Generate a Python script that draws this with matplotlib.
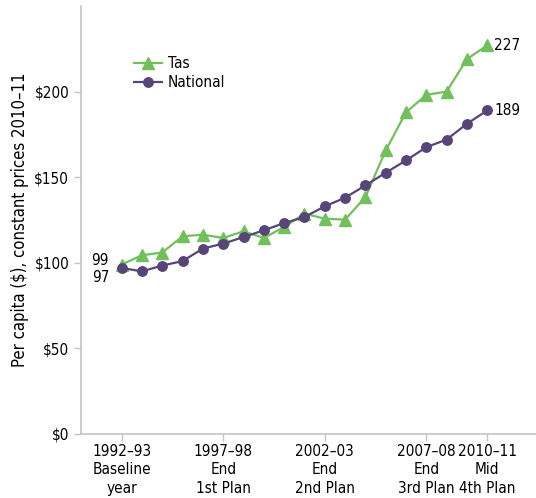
import matplotlib.pyplot as plt
import numpy as np

years = list(range(19))  # 1992-93 .. 2010-11
tas = [99, 104.4, 106, 115.5, 116.4, 114.5, 118.4, 114.5, 120.9, 128.7,
       125.8, 125.2, 138.4, 165.6, 187.9, 198.1, 200, 219, 227]
national = [97, 95, 98.4, 101, 108.3, 111.2, 115, 119, 123.2, 126.7,
            133, 138, 145.2, 152.6, 159.8, 167.5, 172, 181.2, 189]
tick_pos = [0, 5, 10, 15, 18]
tick_labels = ["1992\u201393\nBaseline\nyear", "1997\u201398\nEnd\n1st Plan",
               "2002\u201303\nEnd\n2nd Plan", "2007\u201308\nEnd\n3rd Plan",
               "2010\u201311\nMid\n4th Plan"]
y_ticks = [0, 50, 100, 150, 200]

GREEN = "#72c05b"
PURPLE = "#574478"
GREY = "#c4c4c4"

plt.rcParams["font.family"] = ["DejaVu Sans"]
plt.rcParams["font.stretch"] = "condensed"
plt.rcParams["font.size"] = 11

fig = plt.figure(figsize=(5.36, 4.98), dpi=100)
ax = fig.add_axes([81 / 536, 1 - 434 / 498, 1 - 81 / 536, (434 - 6) / 498])

ax.plot(years, tas, color=GREEN, marker="^", markersize=8.5, lw=1.6, label="Tas")
ax.plot(years, national, color=PURPLE, marker="o", markersize=6.8, lw=1.6,
        label="National")

ax.set_xlim(-2, 20.4)
ax.set_ylim(0, 250)
ax.set_xticks(tick_pos)
ax.set_xticklabels(tick_labels, linespacing=1.3)
ax.set_yticks(y_ticks)
ax.set_yticklabels([f"${v}" for v in y_ticks])
ax.set_ylabel("Per capita ($), constant prices 2010\u201311", fontsize=12,
              labelpad=4)

for side in ["top", "right"]:
    ax.spines[side].set_visible(False)
for side in ["left", "bottom"]:
    ax.spines[side].set_color(GREY)
    ax.spines[side].set_linewidth(1.2)
ax.tick_params(colors=GREY, labelcolor="black", length=5, width=1)
ax.tick_params(axis="x", pad=2)

ax.annotate(f"{tas[0]}", (years[0], tas[0]), xytext=(-9, 3),
            textcoords="offset points", ha="right", va="center")
ax.annotate(f"{national[0]}", (years[0], national[0]), xytext=(-9, -7),
            textcoords="offset points", ha="right", va="center")
ax.annotate(f"{tas[-1]}", (years[-1], tas[-1]), xytext=(5, 0),
            textcoords="offset points", ha="left", va="center")
ax.annotate(f"{round(national[-1])}", (years[-1], national[-1]), xytext=(5, 0),
            textcoords="offset points", ha="left", va="center")

ax.legend(loc="upper left", bbox_to_anchor=(0.1, 0.9), frameon=False,
          handlelength=1.8, handletextpad=0.4, labelspacing=0.25, borderpad=0)

fig.savefig("out.png", dpi=100)
plt.close()
